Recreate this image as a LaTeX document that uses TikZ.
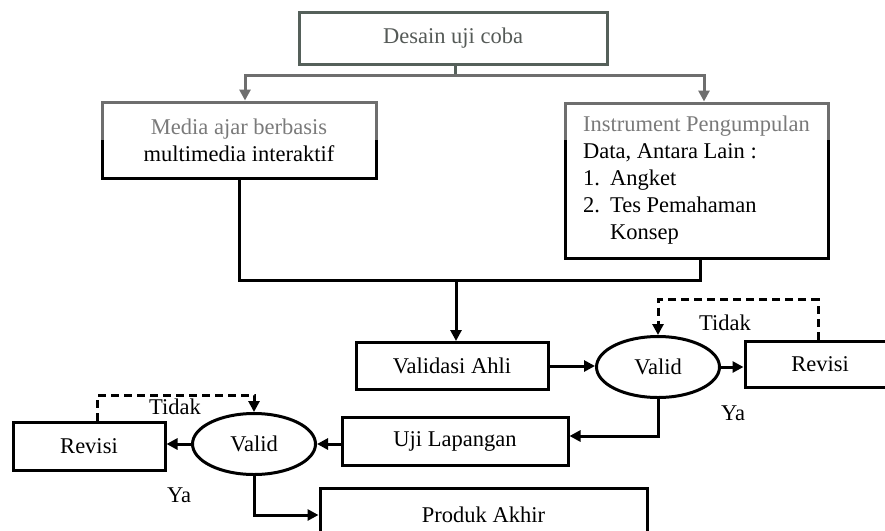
\documentclass[tikz,border=0pt]{standalone}
\usepackage{fontspec}
\setmainfont{Liberation Serif}
\usetikzlibrary{arrows.meta,shapes.geometric,calc}
\definecolor{topline}{HTML}{55605A}
\definecolor{toptext}{HTML}{555A57}
\definecolor{fadeline}{HTML}{6E6E6E}
\definecolor{fadetext}{HTML}{7A7A7A}
\begin{document}
\begin{tikzpicture}[x=1pt,y=-1pt,
  every node/.style={font=\fontsize{22.5pt}{27pt}\selectfont, inner sep=0pt},
  box/.style={draw=black, line width=3pt, rectangle, align=center},
  plainbox/.style={draw=none, rectangle, outer sep=1.5pt},
  oval/.style={draw=black, line width=3pt, ellipse, minimum width=123pt, minimum height=61pt, inner sep=0pt},
  conn/.style={line width=3pt},
  arr/.style={conn, -{Triangle[length=11pt,width=11pt]}},
  darr/.style={arr, dash pattern=on 8pt off 5pt}]
\fill[white] (0,0) rectangle (885,530);
\useasboundingbox (0,0) rectangle (885,530);
% nodes
\node[box, draw=topline, text=toptext, minimum width=308pt, minimum height=52pt] (desain) at (453,38) {Desain uji coba};
\node[plainbox, minimum width=274pt, minimum height=76pt, align=center] (media) at (239,140) {{\color{fadetext}Media ajar berbasis}\\multimedia interaktif};
\node[plainbox, minimum width=263pt, minimum height=155pt, align=left] (instr) at (696.5,180.5) {{\color{fadetext}Instrument Pengumpulan}\\Data, Antara Lain :\\\makebox[27pt][l]{1.}Angket\\\makebox[27pt][l]{2.}Tes Pemahaman\\\hspace*{27pt}Konsep};
\node[box, minimum width=192pt, minimum height=47pt] (validasi) at (452,366) {Validasi Ahli};
\node[oval] (valid1) at (658,367) {Valid};
\node[box, minimum width=150pt, minimum height=46pt] (revisi1) at (820,364) {Revisi};
\node[box, minimum width=226pt, minimum height=48pt] (uji) at (455,441) {Uji Lapangan};
\node[oval] (valid2) at (254,444) {Valid};
\node[box, minimum width=152pt, minimum height=48pt] (revisi2) at (89,446) {Revisi};
\node[box, minimum width=327pt, minimum height=54pt] (produk) at (483.5,515) {Produk Akhir};
% borders of the two upper boxes: faded above y=140, black below
\begin{scope}
  \clip (0,0) rectangle (885,140);
  \draw[fadeline, line width=3pt] ([shift={(1.5pt,-1.5pt)}]media.north west) rectangle ([shift={(-1.5pt,1.5pt)}]media.south east);
  \draw[fadeline, line width=3pt] ([shift={(1.5pt,-1.5pt)}]instr.north west) rectangle ([shift={(-1.5pt,1.5pt)}]instr.south east);
\end{scope}
\begin{scope}
  \clip (0,140) rectangle (885,530);
  \draw[black, line width=3pt] ([shift={(1.5pt,-1.5pt)}]media.north west) rectangle ([shift={(-1.5pt,1.5pt)}]media.south east);
  \draw[black, line width=3pt] ([shift={(1.5pt,-1.5pt)}]instr.north west) rectangle ([shift={(-1.5pt,1.5pt)}]instr.south east);
\end{scope}
% labels
\node (tidak1) at (725,323) {Tidak};
\node (ya1) at (733,413) {Ya};
\node (tidak2) at (175,407) {Tidak};
\node (ya2) at (179,495) {Ya};
% connectors
\coordinate (j1) at (455,75);
\draw[conn, topline] (desain.south -| j1) -- (j1);
\draw[arr, fadeline] (j1) -| ([xshift=6pt]media.north);
\draw[arr, fadeline] (j1) -| ([xshift=7.5pt]instr.north);
\coordinate (j2) at (456,280);
\draw[conn] (media.south) |- (j2);
\draw[conn] ([xshift=3.5pt]instr.south) |- (j2);
\draw[arr] (j2) -- (j2 |- validasi.north);
\draw[arr] (validasi.east) -- (validasi.east -| valid1.west);
\draw[arr] (valid1.east) -- (valid1.east -| revisi1.west);
\draw[darr] ([xshift=-2pt]revisi1.north) -- ++(0,-40) -| (valid1.north);
\draw[arr] (valid1.south) |- ([yshift=5pt]uji.east);
\draw[arr] (uji.west |- valid2.east) -- (valid2.east);
\draw[arr] (valid2.west) -- (valid2.west -| revisi2.east);
\draw[darr] ([xshift=8pt]revisi2.north) -- ++(0,-25) -| (valid2.north);
\draw[arr] (valid2.south) |- (produk.west);
\end{tikzpicture}
\end{document}
